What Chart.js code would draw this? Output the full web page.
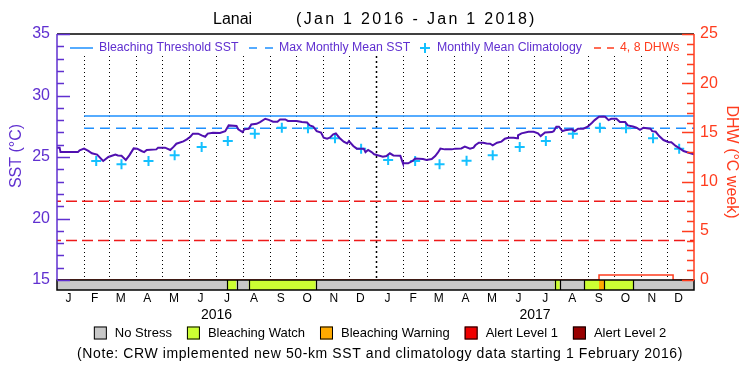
<!DOCTYPE html>
<html>
<head>
<meta charset="utf-8">
<script src="https://cdn.jsdelivr.net/npm/chart.js@4.4.1/dist/chart.umd.min.js"></script>
<style>
  html, body { margin: 0; padding: 0; background: #fff; }
  #wrap { width: 750px; height: 375px; }
</style>
</head>
<body>
<div id="wrap"><canvas id="chart" width="750" height="375"></canvas></div>
<script>
// ---- data (x = days since Jan 1 2016) ----
const MONTH_LETTERS = ['J', 'F', 'M', 'A', 'M', 'J', 'J', 'A', 'S', 'O', 'N', 'D'];
const YEARS = [2016, 2017];

const sstDays = [0, 3, 4, 24, 26, 31, 36, 40, 46, 53, 59, 67, 70, 74, 79, 83, 88, 92, 97, 100,
  103, 114, 116, 124, 130, 134, 137, 145, 149, 153, 156, 162, 166, 170, 173, 179, 187, 193, 197, 206,
  208, 213, 215, 220, 223, 229, 233, 239, 243, 248, 253, 256, 262, 265, 275, 281, 287, 290, 294, 298,
  303, 306, 310, 313, 317, 320, 324, 329, 333, 335, 340, 344, 352, 354, 357, 361, 364, 374, 378, 382,
  386, 394, 396, 397, 403, 408, 411, 420, 424, 430, 434, 437, 440, 445, 453, 457, 464, 468, 474, 478,
  480, 484, 489, 493, 497, 500, 505, 510, 514, 518, 524, 528, 529, 533, 541, 547, 552, 555, 560, 568,
  570, 573, 576, 580, 583, 591, 594, 598, 604, 609, 614, 617, 622, 627, 629, 633, 636, 642, 646, 652,
  655, 661, 665, 669, 673, 681, 683, 687, 691, 696, 702, 705, 710, 715, 719, 725, 731];
const sstValues = [25.76, 25.76, 25.40, 25.40, 25.55, 25.68, 25.49, 25.30, 25.20, 24.68, 25.00, 25.20, 25.13, 25.10, 24.76, 25.13, 25.70, 25.68, 25.49, 25.40,
  25.57, 25.62, 25.76, 25.76, 25.57, 25.84, 26.08, 26.27, 26.43, 26.65, 26.90, 26.90, 26.76, 26.65, 26.90, 26.98, 26.95, 27.10, 27.57, 27.53,
  27.25, 27.03, 27.25, 27.30, 27.65, 27.70, 27.84, 28.11, 28.02, 27.87, 27.87, 28.05, 28.05, 27.93, 27.93, 27.84, 27.80, 27.57, 27.48, 27.10,
  26.98, 26.57, 26.49, 26.57, 26.84, 26.92, 26.57, 26.25, 26.10, 26.30, 25.90, 25.68, 25.68, 25.40, 25.57, 25.40, 25.22, 25.03, 25.08, 25.30,
  25.13, 25.10, 24.68, 24.49, 24.49, 24.68, 24.87, 24.84, 24.76, 24.84, 25.08, 25.35, 25.68, 25.62, 25.62, 25.68, 25.70, 25.84, 25.68, 25.76,
  25.95, 26.16, 26.16, 26.10, 26.08, 25.95, 26.16, 26.25, 26.49, 26.57, 26.57, 26.52, 26.76, 26.92, 27.05, 27.05, 26.92, 26.70, 27.00, 27.03,
  27.10, 27.46, 27.46, 27.10, 27.17, 27.25, 27.10, 27.30, 27.30, 27.46, 27.78, 28.00, 28.27, 28.30, 28.27, 28.00, 28.10, 28.10, 27.84, 27.84,
  27.57, 27.48, 27.38, 27.21, 27.38, 27.30, 27.10, 27.05, 26.70, 26.38, 26.20, 26.20, 25.90, 25.68, 25.49, 25.35, 25.22];

// monthly mean climatology, plotted mid-month
const climDays = [45, 74, 105, 135, 166, 196, 227, 258, 288, 319, 349,
  380, 411, 439, 470, 500, 531, 561, 592, 623, 653, 684, 714];
const climValues = [24.68, 24.41, 24.68, 25.14, 25.81, 26.30, 26.90, 27.38, 27.33, 26.52, 25.68,
  24.76, 24.68, 24.42, 24.70, 25.15, 25.81, 26.30, 26.90, 27.38, 27.33, 26.52, 25.68];

const mmmSst = 27.33;
const thresholdSst = 28.33;   // MMM + 1
const guideStartDay = 31;     // new 50-km products from Feb 1 2016
const dhwGuides = [4, 8];

const dhwDays = [0, 622, 622, 707, 707, 731];
const dhwValues = [0, 0, 0.5, 0.5, 0, 0];

// bleaching stress strip: segment edges and level of each segment
const stressEdges = [0, 195, 206, 220, 297, 571, 577, 605, 622, 628, 661, 731];
const stressLevels = [0, 1, 0, 1, 0, 1, 0, 1, 2, 1, 0];
const stressNames = ['No Stress', 'Bleaching Watch', 'Bleaching Warning', 'Alert Level 1', 'Alert Level 2'];
const stressColors = ['#c8c8c8', '#ccff33', '#ffaa00', '#f00000', '#990000'];

// ---- styling ----
const PURPLE = '#6030d0';
const SST_LINE = '#5010b0';
const ORANGE = '#ff3c1e';
const BLUE = '#1e90ff';
const CYAN = '#14c0ff';
const RED = '#ee1a1a';
const FONT = '"Liberation Sans", Arial, sans-serif';
const SST_MIN = 15 - 20 * 10 / 246;   // leaves room for the stress strip below 15 degC
const DHW_MIN = -25 * 10 / 245;

function dayIndex(y, m, d) {
  return (Date.UTC(y, m, d) - Date.UTC(2016, 0, 1)) / 86400000;
}

function pts(xs, ys) {
  return xs.map((x, i) => ({ x: x, y: ys[i] }));
}

const decorations = {
  id: 'decorations',
  beforeDatasetsDraw(chart) {
    const { ctx, chartArea: a, scales } = chart;
    const x = scales.x, y = scales.y;
    const y15 = y.getPixelForValue(15);
    ctx.save();
    ctx.strokeStyle = '#000';
    YEARS.forEach(yr => {
      for (let m = 0; m < 12; m++) {
        const d = dayIndex(yr, m, 1);
        if (d === 0) continue;
        const px = Math.round(x.getPixelForValue(d)) + 0.5;
        const isYear = m === 0;
        ctx.lineWidth = isYear ? 1.5 : 1;
        ctx.setLineDash(isYear ? [2, 3] : [1, 3]);
        ctx.beginPath();
        ctx.moveTo(px, a.top + 22);
        ctx.lineTo(px, y15 - 1);
        ctx.stroke();
      }
    });
    ctx.restore();
  },
  afterDatasetsDraw(chart) {
    const { ctx, chartArea: a, scales } = chart;
    const x = scales.x, y = scales.y, y2 = scales.y2;
    const y15 = Math.round(y.getPixelForValue(15));
    ctx.save();
    // stress strip
    for (let i = 0; i < stressLevels.length; i++) {
      const x0 = x.getPixelForValue(stressEdges[i]);
      const x1 = x.getPixelForValue(stressEdges[i + 1]);
      ctx.fillStyle = stressColors[stressLevels[i]];
      ctx.fillRect(x0, y15, x1 - x0, a.bottom - y15);
    }
    ctx.strokeStyle = '#000';
    ctx.lineWidth = 1.2;
    for (let i = 1; i < stressEdges.length - 1; i++) {
      // no divider where watch steps straight up into warning
      if (stressLevels[i - 1] === 1 && stressLevels[i] === 2) continue;
      const px = Math.round(x.getPixelForValue(stressEdges[i])) + 0.5;
      ctx.beginPath();
      ctx.moveTo(px, y15);
      ctx.lineTo(px, a.bottom);
      ctx.stroke();
    }
    ctx.lineWidth = 1.5;
    ctx.strokeRect(a.left, y15, a.right - a.left, a.bottom - y15);
    // top frame
    ctx.beginPath();
    ctx.moveTo(a.left, a.top);
    ctx.lineTo(a.right, a.top);
    ctx.stroke();
    // axis lines and inward ticks
    ctx.strokeStyle = PURPLE;
    ctx.beginPath();
    ctx.moveTo(a.left, a.top);
    ctx.lineTo(a.left, y15);
    for (let v = 15; v <= 35; v++) {
      const py = Math.round(y.getPixelForValue(v)) + 0.5;
      ctx.moveTo(a.left, py);
      ctx.lineTo(a.left + (v % 5 === 0 ? 13 : 7), py);
    }
    ctx.stroke();
    ctx.strokeStyle = ORANGE;
    ctx.beginPath();
    ctx.moveTo(a.right, a.top);
    ctx.lineTo(a.right, y15);
    for (let v = 0; v <= 25; v++) {
      const py = Math.round(y2.getPixelForValue(v)) + 0.5;
      ctx.moveTo(a.right, py);
      ctx.lineTo(a.right - (v % 5 === 0 ? 12 : 7), py);
    }
    ctx.stroke();
    ctx.restore();
  },
  afterDraw(chart) {
    const { ctx, chartArea: a, scales } = chart;
    const x = scales.x;
    ctx.save();
    ctx.textBaseline = 'middle';

    // title
    ctx.fillStyle = '#000';
    ctx.font = '16px ' + FONT;
    ctx.textAlign = 'left';
    ctx.fillText('Lanai', 213, 20);
    ctx.letterSpacing = '2.3px';
    ctx.fillText('(Jan 1 2016 - Jan 1 2018)', 296, 20);
    ctx.letterSpacing = '0px';

    // month and year labels
    ctx.textAlign = 'center';
    ctx.font = '12px ' + FONT;
    YEARS.forEach(yr => {
      MONTH_LETTERS.forEach((ml, m) => {
        const mid = (dayIndex(yr, m, 1) + dayIndex(yr, m + 1, 1)) / 2;
        ctx.fillText(ml, x.getPixelForValue(mid) - 2, a.bottom + 9);
      });
    });
    ctx.font = '14px ' + FONT;
    YEARS.forEach(yr => {
      const mid = (dayIndex(yr, 0, 1) + dayIndex(yr + 1, 0, 1)) / 2;
      ctx.fillText(String(yr), x.getPixelForValue(mid), a.bottom + 25);
    });

    // axis titles
    ctx.font = '16px ' + FONT;
    ctx.fillStyle = PURPLE;
    ctx.save();
    ctx.translate(17, 156);
    ctx.rotate(-Math.PI / 2);
    ctx.fillText('SST (\u00B0C)', 0, 0);
    ctx.restore();
    ctx.fillStyle = ORANGE;
    ctx.save();
    ctx.translate(731, 162);
    ctx.rotate(Math.PI / 2);
    ctx.fillText('DHW (\u00B0C week)', 0, 0);
    ctx.restore();

    // in-plot legend
    const ly = a.top + 14;
    ctx.font = '12.3px ' + FONT;
    ctx.textAlign = 'left';
    ctx.lineWidth = 1.5;
    ctx.strokeStyle = BLUE;
    ctx.beginPath();
    ctx.moveTo(70, ly); ctx.lineTo(93, ly);
    ctx.stroke();
    ctx.fillStyle = PURPLE;
    ctx.fillText('Bleaching Threshold SST', 99, ly);
    ctx.setLineDash([8, 8]);
    ctx.beginPath();
    ctx.moveTo(249, ly); ctx.lineTo(274, ly);
    ctx.stroke();
    ctx.fillText('Max Monthly Mean SST', 279, ly);
    ctx.setLineDash([]);
    ctx.strokeStyle = CYAN;
    ctx.lineWidth = 2;
    ctx.beginPath();
    ctx.moveTo(420, ly); ctx.lineTo(430, ly);
    ctx.moveTo(425, ly - 5); ctx.lineTo(425, ly + 5);
    ctx.stroke();
    ctx.fillText('Monthly Mean Climatology', 437, ly);
    ctx.strokeStyle = ORANGE;
    ctx.lineWidth = 1.5;
    ctx.setLineDash([7, 6]);
    ctx.beginPath();
    ctx.moveTo(594, ly); ctx.lineTo(614, ly);
    ctx.stroke();
    ctx.setLineDash([]);
    ctx.fillStyle = ORANGE;
    ctx.fillText('4, 8 DHWs', 620, ly);

    // stress legend
    ctx.font = '13px ' + FONT;
    const gapBox = 8, gapItem = 15, box = 13;
    let total = 0;
    stressNames.forEach(n => { total += box + gapBox + ctx.measureText(n).width + gapItem; });
    total -= gapItem;
    let lx = 380 - total / 2;
    const by = 333;
    ctx.lineWidth = 1;
    ctx.strokeStyle = '#000';
    stressNames.forEach((n, i) => {
      ctx.fillStyle = stressColors[i];
      ctx.fillRect(lx, by - box / 2, box, box);
      ctx.strokeRect(lx + 0.5, by - box / 2 + 0.5, box - 1, box - 1);
      ctx.fillStyle = '#000';
      ctx.fillText(n, lx + box + gapBox, by);
      lx += box + gapBox + ctx.measureText(n).width + gapItem;
    });

    // note
    ctx.textAlign = 'center';
    ctx.font = '14px ' + FONT;
    ctx.letterSpacing = '0.6px';
    ctx.fillText('(Note: CRW implemented new 50-km SST and climatology data starting 1 February 2016)', 380, 354);
    ctx.restore();
  }
};

new Chart(document.getElementById('chart'), {
  type: 'line',
  data: {
    datasets: [
      {
        label: 'SST',
        data: pts(sstDays, sstValues),
        borderColor: SST_LINE,
        borderWidth: 2,
        pointRadius: 0,
        yAxisID: 'y'
      },
      {
        label: 'Monthly Mean Climatology',
        data: pts(climDays, climValues),
        showLine: false,
        pointStyle: 'cross',
        pointRadius: 5,
        pointBorderWidth: 2,
        pointBorderColor: CYAN,
        borderColor: CYAN,
        yAxisID: 'y'
      },
      {
        label: 'Bleaching Threshold SST',
        data: [{ x: guideStartDay, y: thresholdSst }, { x: 731, y: thresholdSst }],
        borderColor: BLUE,
        borderWidth: 1.5,
        pointRadius: 0,
        yAxisID: 'y'
      },
      {
        label: 'Max Monthly Mean SST',
        data: [{ x: guideStartDay, y: mmmSst }, { x: 731, y: mmmSst }],
        borderColor: BLUE,
        borderWidth: 1.5,
        borderDash: [10, 6],
        pointRadius: 0,
        yAxisID: 'y'
      },
      ...dhwGuides.map(v => ({
        label: v + ' DHW',
        data: [{ x: 0, y: v }, { x: 731, y: v }],
        borderColor: RED,
        borderWidth: 1.5,
        borderDash: [11, 5],
        borderDashOffset: 7,
        pointRadius: 0,
        yAxisID: 'y2'
      })),
      {
        label: 'DHW',
        data: pts(dhwDays, dhwValues),
        borderColor: ORANGE,
        borderWidth: 1.5,
        pointRadius: 0,
        yAxisID: 'y2'
      }
    ]
  },
  options: {
    responsive: false,
    animation: false,
    events: [],
    layout: { padding: { top: 34 } },
    plugins: {
      legend: { display: false },
      title: { display: false },
      tooltip: { enabled: false }
    },
    scales: {
      x: {
        type: 'linear',
        min: 0,
        max: 731,
        grid: { display: false },
        border: { display: false },
        ticks: { display: false },
        afterFit: s => { s.height = 85; }
      },
      y: {
        position: 'left',
        min: SST_MIN,
        max: 35,
        afterBuildTicks: s => { s.ticks = [15, 20, 25, 30, 35].map(v => ({ value: v })); },
        ticks: { color: PURPLE, font: { size: 16, family: FONT }, padding: 7 },
        grid: { display: false, drawTicks: false },
        border: { display: false },
        afterFit: s => { s.width = 57; }
      },
      y2: {
        position: 'right',
        min: DHW_MIN,
        max: 25,
        afterBuildTicks: s => { s.ticks = [0, 5, 10, 15, 20, 25].map(v => ({ value: v })); },
        ticks: { color: ORANGE, font: { size: 16, family: FONT }, padding: 6 },
        grid: { display: false, drawTicks: false },
        border: { display: false },
        afterFit: s => { s.width = 56; }
      }
    }
  },
  plugins: [decorations]
});
</script>
</body>
</html>
